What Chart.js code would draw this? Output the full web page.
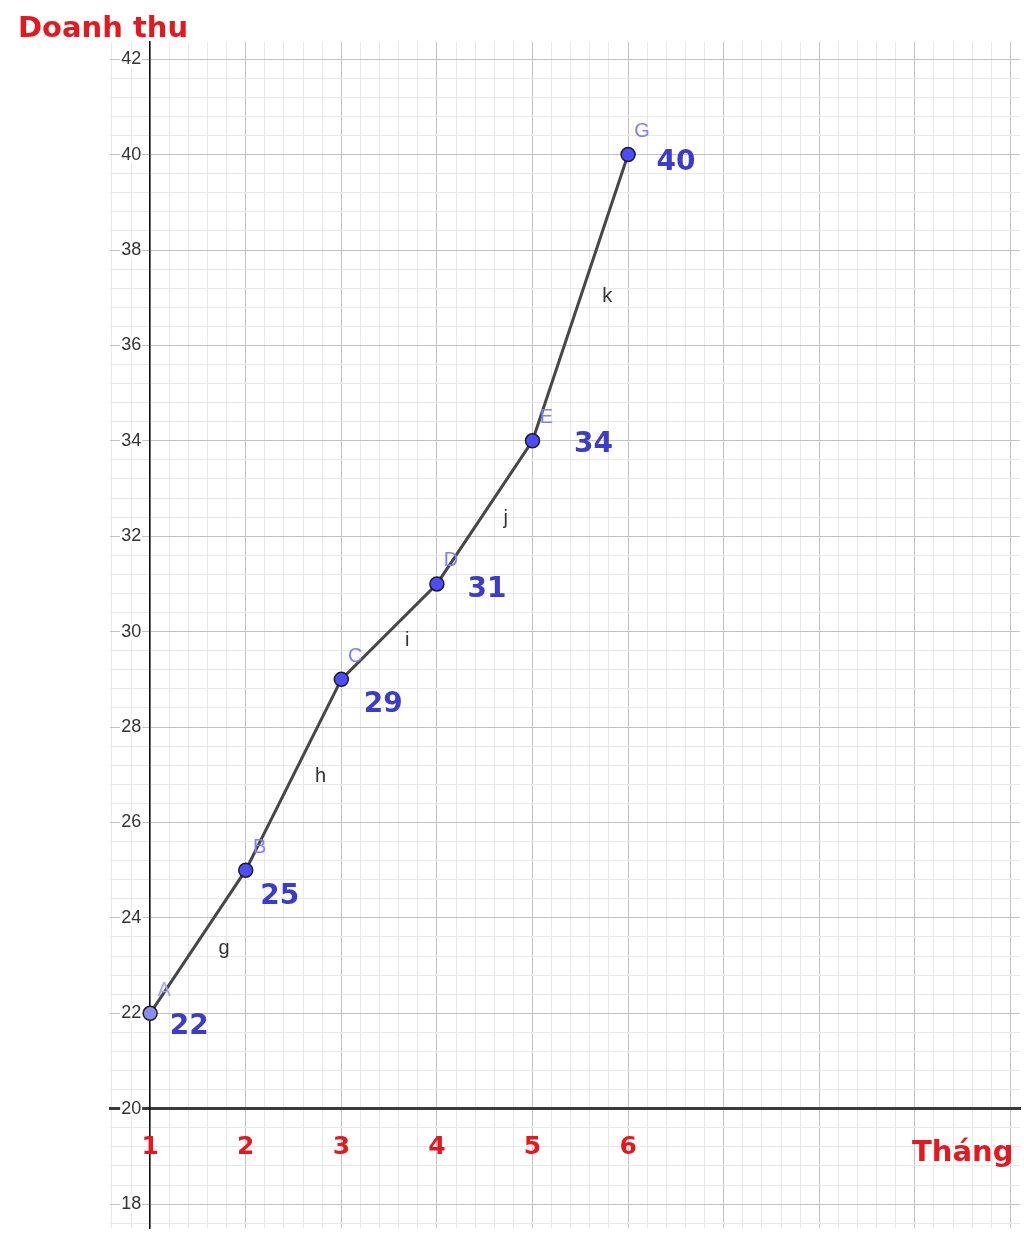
<!DOCTYPE html>
<html>
<head>
<meta charset="utf-8">
<script src="https://cdn.jsdelivr.net/npm/chart.js@4/dist/chart.umd.min.js"></script>
<style>
  html, body { margin: 0; padding: 0; background: #fff; }
  canvas { display: block; }
</style>
</head>
<body>
<canvas id="myChart" width="1024" height="1233"></canvas>
<script>
// data
const months = [1, 2, 3, 4, 5, 6];
const revenue = [22, 25, 29, 31, 34, 40];
const pointNames = ["A", "B", "C", "D", "E", "G"];
const segmentNames = ["g", "h", "i", "j", "k"];
const xTickLabels = ["1", "2", "3", "4", "5", "6"];
const xTitle = "Tháng";
const yTitle = "Doanh thu";

// hand-placed label nudges from the original (pixels)
const nameOffset = [14, -23];
const valueOffsets = [[39, 13], [34, 27], [42, 25], [50, 6], [61, 4], [48, 8]];
const segmentOffsets = [[26, 7], [27, 2], [18, 9], [21, 6], [27, -1]];

const RED = "#e3191f";
const BLUE_TEXT = "#3b3bcc";

function isInt(v) {
  return Math.abs(v - Math.round(v)) < 1e-6;
}

// positioned axes still add their label padding to the layout, drop it
function noPadding(scale) {
  scale.paddingLeft = 0;
  scale.paddingRight = 0;
  scale.paddingTop = 0;
  scale.paddingBottom = 0;
}

const annotations = {
  id: "annotations",
  afterDatasetsDraw(chart) {
    const { ctx } = chart;
    const x = chart.scales.x;
    const y = chart.scales.y;
    ctx.save();
    ctx.textAlign = "center";
    ctx.textBaseline = "middle";

    // segment names
    ctx.font = "20px 'Liberation Sans', Arial, sans-serif";
    ctx.fillStyle = "#333";
    segmentNames.forEach((name, i) => {
      const px = x.getPixelForValue((months[i] + months[i + 1]) / 2);
      const py = y.getPixelForValue((revenue[i] + revenue[i + 1]) / 2);
      ctx.fillText(name, px + segmentOffsets[i][0], py + segmentOffsets[i][1]);
    });

    // point names and values
    months.forEach((m, i) => {
      const px = x.getPixelForValue(m);
      const py = y.getPixelForValue(revenue[i]);
      ctx.font = "20px 'Liberation Sans', Arial, sans-serif";
      ctx.fillStyle = i === 0 ? "#a8a8ff" : "#7f7fff";
      ctx.fillText(pointNames[i], px + nameOffset[0], py + nameOffset[1]);
      ctx.font = "bold 28px 'DejaVu Sans', Verdana, sans-serif";
      ctx.fillStyle = BLUE_TEXT;
      ctx.fillText(String(revenue[i]), px + valueOffsets[i][0], py + valueOffsets[i][1]);
    });

    // axis titles
    ctx.textAlign = "left";
    ctx.textBaseline = "alphabetic";
    ctx.font = "bold 29px 'DejaVu Sans', Verdana, sans-serif";
    ctx.fillStyle = RED;
    ctx.fillText(yTitle, 18, 37);
    ctx.fillText(xTitle, 912, 1161);
    ctx.restore();
  },
};

const ctx = document.getElementById("myChart").getContext("2d");
const myChart = new Chart(ctx, {
  type: "line",
  data: {
    datasets: [
      {
        data: months.map((m, i) => ({ x: m, y: revenue[i] })),
        borderColor: "#474747",
        borderWidth: 3,
        tension: 0,
        fill: false,
        pointRadius: 7,
        pointBorderWidth: 1.5,
        pointBorderColor: "#1e1e1e",
        pointBackgroundColor: months.map((m, i) => (i === 0 ? "#8c8cf5" : "#4d4dff")),
      },
    ],
  },
  options: {
    responsive: false,
    animation: false,
    events: [],
    layout: { autoPadding: false, padding: { left: 110, right: 4, top: 42, bottom: 5 } },
    plugins: {
      legend: { display: false },
      tooltip: { enabled: false },
    },
    scales: {
      x: {
        type: "linear",
        position: { y: 20 },
        min: 0.58,
        max: 10.1,
        afterFit: noPadding,
        grid: {
          z: -1,
          drawTicks: false,
          lineWidth: 1,
          color: (c) => (isInt(c.tick.value) ? "#c2c2c2" : "#e8e8e8"),
        },
        border: { color: "#3a3a3a", width: 3 },
        ticks: {
          z: 1,
          stepSize: 0.2,
          includeBounds: false,
          autoSkip: false,
          maxRotation: 0,
          padding: 24,
          color: RED,
          font: { family: "'DejaVu Sans', Verdana, sans-serif", size: 25, weight: "bold" },
          callback: (v) => {
            const n = Math.round(v);
            return isInt(v) && n >= 1 && n <= xTickLabels.length ? xTickLabels[n - 1] : "";
          },
        },
      },
      y: {
        type: "linear",
        position: { x: 1 },
        min: 17.5,
        max: 42.36,
        afterFit: noPadding,
        grid: {
          z: -1,
          drawTicks: false,
          lineWidth: 1,
          color: (c) => {
            const v = c.tick.value;
            return isInt(v) && Math.round(v) % 2 === 0 ? "#c2c2c2" : "#e8e8e8";
          },
        },
        border: { color: "#111", width: 1.5 },
        ticks: {
          stepSize: 0.4,
          includeBounds: false,
          autoSkip: false,
          color: "#333",
          showLabelBackdrop: true,
          backdropColor: (c) => (c.tick && isInt(c.tick.value) && Math.round(c.tick.value) % 2 === 0 ? "#fff" : "rgba(0,0,0,0)"),
          backdropPadding: { left: 1, right: -8, top: -3, bottom: -3 },
          font: { family: "'Liberation Sans', Arial, sans-serif", size: 18 },
          // en space keeps the number clear of the axis line
          callback: (v) => (isInt(v) && Math.round(v) % 2 === 0 ? Math.round(v) + "\u2002" : ""),
        },
      },
    },
  },
  plugins: [annotations],
});
</script>
</body>
</html>
